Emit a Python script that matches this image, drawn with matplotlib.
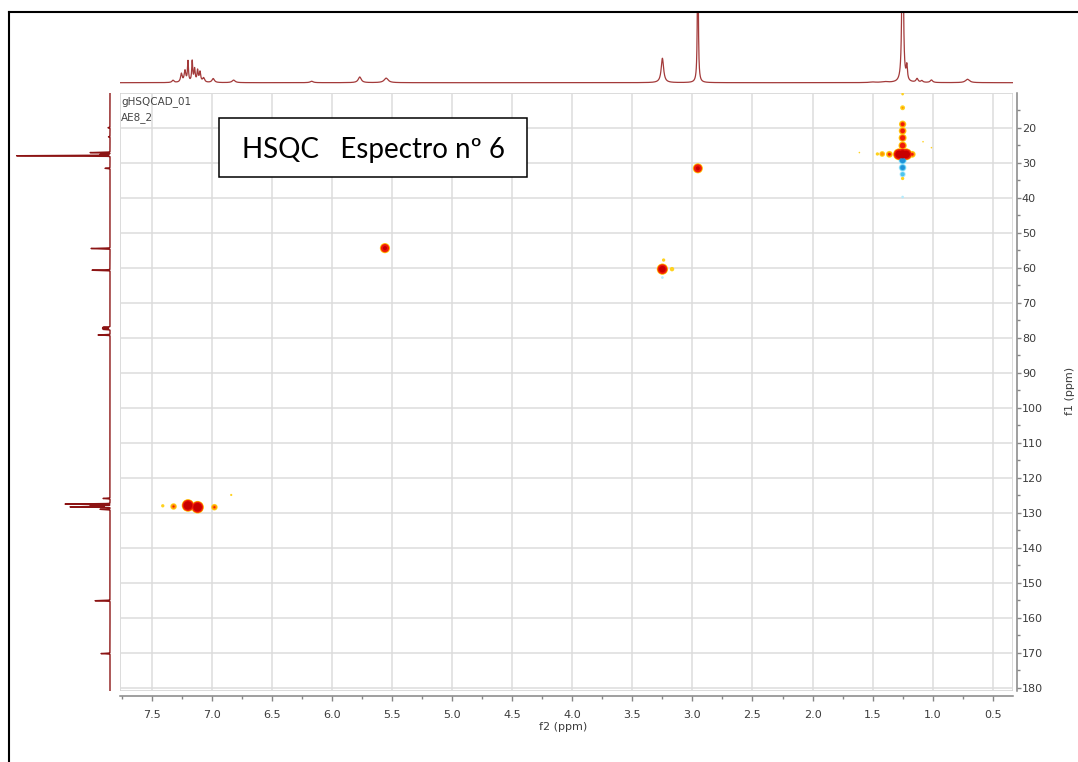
import numpy as np
import matplotlib
matplotlib.use("Agg")
import matplotlib.pyplot as plt
from matplotlib.ticker import FixedLocator
from matplotlib.patches import Rectangle
from matplotlib.lines import Line2D

# ---------------- spectral data ----------------
# 1H projection (f2): shift (ppm), height (arb.), half-width (ppm)
h1_shift = [7.325, 7.255, 7.225, 7.200, 7.165, 7.145, 7.120, 7.100, 7.070,
            6.990, 6.820, 6.170, 5.770, 5.550, 3.250, 2.955,
            1.500, 1.400, 1.250, 1.215, 1.130, 1.090, 1.010, 0.710]
h1_height = [0.8, 3.0, 4.0, 7.2, 7.3, 4.5, 4.0, 3.5, 1.5,
             1.4, 0.9, 0.5, 2.0, 1.6, 8.6, 60.0,
             0.2, 0.3, 100.0, 5.0, 1.3, 0.6, 0.9, 1.2]
h1_hwhm = [0.010, 0.008, 0.008, 0.005, 0.005, 0.006, 0.006, 0.007, 0.010,
           0.012, 0.015, 0.015, 0.015, 0.020, 0.012, 0.004,
           0.030, 0.030, 0.005, 0.006, 0.010, 0.010, 0.012, 0.020]

# 13C projection (f1): shift (ppm), height (arb.)
c13_shift = [20.0, 22.6, 27.1, 27.6, 28.0, 31.6, 54.5, 60.7,
             77.0, 77.3, 77.6, 79.2, 125.9, 127.5, 128.0, 128.3, 129.0,
             155.1, 170.2]
c13_height = [2.0, 1.5, 20.0, 10.0, 93.5, 5.0, 19.0, 18.0,
              7.0, 7.5, 7.0, 12.0, 7.0, 45.0, 20.0, 40.0, 10.0,
              15.0, 9.0]

# HSQC cross peaks: 1H shift, 13C shift, signed amplitude
xp_h = [7.41, 7.32, 7.20, 7.12, 6.98, 6.84,
        5.56,
        3.25, 3.24, 3.17, 3.25,
        2.955,
        1.25, 1.25, 1.25, 1.25, 1.25, 1.25,
        1.28, 1.22, 1.25, 1.36, 1.42, 1.46, 1.17, 1.61, 1.08, 1.01,
        1.25, 1.25, 1.25, 1.25, 1.25]
xp_c = [128.0, 128.2, 127.9, 128.4, 128.4, 124.9,
        54.4,
        60.4, 57.8, 60.4, 62.8,
        31.6,
        10.4, 14.3, 19.0, 20.9, 22.9, 25.1,
        27.6, 27.6, 27.6, 27.6, 27.5, 27.5, 27.6, 27.1, 24.0, 25.7,
        29.3, 31.4, 33.3, 34.5, 39.8]
xp_amp = [2.0, 4.5, 91.0, 91.0, 4.5, 1.7,
          22.0,
          41.0, 2.0, 2.5, -1.8,
          21.0,
          1.8, 2.8, 6.0, 7.0, 8.0, 9.0,
          60.0, 60.0, 80.0, 5.0, 3.5, 2.0, 5.0, 1.6, 1.6, 1.6,
          -9.0, -7.0, -4.0, 2.0, -1.8]

f2_ticks = [7.5, 7.0, 6.5, 6.0, 5.5, 5.0, 4.5, 4.0, 3.5, 3.0, 2.5, 2.0, 1.5, 1.0, 0.5]
f1_ticks = list(range(20, 181, 10))
title_text = "HSQC   Espectro nº 6"
exp_lines = ["gHSQCAD_01", "AE8_2"]

# ---------------- layout ----------------
W, H = 1078, 762
fig = plt.figure(figsize=(W / 100, H / 100), dpi=100)
fig.patch.set_facecolor("white")


def rect(l, t, r, b):
    return [l / W, 1 - b / H, (r - l) / W, (b - t) / H]


F2_LIM = (7.766, 0.331)
F1_LIM = (180.9, 10.0)
TICK_COLOR = "#3c3c3c"
SPINE_COLOR = "#858585"
GRID_COLOR = "#dcdcdc"

# ---------------- 2D contour plot ----------------
ax = fig.add_axes(rect(120, 92.7, 1013, 691))
ax.set_xlim(*F2_LIM)
ax.set_ylim(*F1_LIM)
ax.set_facecolor("white")
for side in ("top", "left"):
    ax.spines[side].set_visible(False)
ax.spines["bottom"].set_position(("outward", 3.6))
ax.spines["right"].set_position(("outward", 2.7))
for side in ("bottom", "right"):
    ax.spines[side].set_color(SPINE_COLOR)
    ax.spines[side].set_linewidth(1.1)
ax.add_patch(Rectangle((0, 0), 1, 1, transform=ax.transAxes, fill=False,
                       ec="#d2d2d2", lw=1.1, zorder=0.5))

ax.xaxis.set_major_locator(FixedLocator(f2_ticks))
ax.xaxis.set_minor_locator(FixedLocator(np.arange(0.75, 7.8, 0.5)))
ax.yaxis.set_major_locator(FixedLocator(f1_ticks))
ax.yaxis.set_minor_locator(FixedLocator(np.arange(15, 180, 10)))
ax.xaxis.set_major_formatter(plt.FuncFormatter(lambda v, p: f"{v:.1f}"))
ax.yaxis.set_major_formatter(plt.FuncFormatter(lambda v, p: f"{v:.0f}"))
ax.yaxis.tick_right()
ax.tick_params(axis="x", which="major", length=3.6, width=1.0, color=SPINE_COLOR,
               labelsize=8, labelcolor=TICK_COLOR, pad=6.2)
ax.tick_params(axis="x", which="minor", length=2.2, width=1.0, color=SPINE_COLOR)
ax.tick_params(axis="y", which="major", length=3.1, width=1.0, color=SPINE_COLOR,
               labelsize=8, labelcolor=TICK_COLOR, pad=0.6, right=True, left=False)
ax.tick_params(axis="y", which="minor", length=1.8, width=1.0, color=SPINE_COLOR,
               right=True, left=False)
ax.grid(True, which="major", color=GRID_COLOR, lw=1.1)
ax.set_axisbelow(True)

# cross peaks rendered as stacked contour levels of a gaussian footprint
LEVELS = [1.5, 2.5, 4.0, 14.0]
POS_COLORS = ["#ffd21f", "#ff9a00", "#f01a0a", "#c80000"]
NEG_COLORS = ["#b4ebfc", "#4cc4ef", "#1f92d8", "#0d62ae"]
SIGMA_PX = 2.2
xh = np.array(xp_h)
xc = np.array(xp_c)
xa = np.array(xp_amp)
for k, lev in enumerate(LEVELS):
    mag = np.abs(xa)
    on = mag > lev
    r_px = SIGMA_PX * np.sqrt(2 * np.log(np.where(on, mag / lev, 1.0)))
    s = (2 * r_px * 72 / 100) ** 2
    cols = [POS_COLORS[k] if a > 0 else NEG_COLORS[k] for a in xa]
    idx = np.where(on)[0]
    ax.scatter(xh[idx], xc[idx], s=s[idx], c=[cols[i] for i in idx],
               linewidths=0, zorder=3 + k)

# ---------------- 1H projection (top) ----------------
axT = fig.add_axes(rect(120, 11.7, 1013, 90))
axT.set_xlim(*F2_LIM)
px_per_unit = 2.84
axT.set_ylim(-(90 - 82.7) / px_per_unit, (82.7 - 11.7) / px_per_unit)
axT.axis("off")
ppm_h = np.linspace(F2_LIM[0], F2_LIM[1], 9000)
spec_h = np.zeros_like(ppm_h)
for c, h, w in zip(h1_shift, h1_height, h1_hwhm):
    spec_h += h * w ** 2 / ((ppm_h - c) ** 2 + w ** 2)
axT.plot(ppm_h, spec_h, color="#a33a3a", lw=0.9)

# ---------------- 13C projection (left) ----------------
axL = fig.add_axes(rect(10, 92.7, 113, 691))
axL.set_ylim(*F1_LIM)
axL.set_xlim(100, -3)
axL.axis("off")
ppm_c = np.linspace(F1_LIM[1], F1_LIM[0], 12000)
spec_c = np.zeros_like(ppm_c)
for c, h in zip(c13_shift, c13_height):
    sig = 0.07
    spec_c += h * np.exp(-0.5 * ((ppm_c - c) / sig) ** 2)
axL.plot(spec_c, ppm_c, color="#8c1414", lw=1.0)

# ---------------- annotations ----------------
fig.text(121 / W, 1 - 101.7 / H, exp_lines[0], fontsize=7.5, color="#454545",
         ha="left", va="center")
fig.text(121 / W, 1 - 117.5 / H, exp_lines[1], fontsize=7.5, color="#454545",
         ha="left", va="center")
fig.text(563 / W, 1 - 727 / H, "f2 (ppm)", fontsize=8, color=TICK_COLOR,
         ha="center", va="center")
fig.text(1070 / W, 1 - 391 / H, "f1 (ppm)", fontsize=8, color=TICK_COLOR,
         ha="center", va="center", rotation=90)

fig.add_artist(Rectangle((219.3 / W, 1 - 176.7 / H), (527 - 219.3) / W,
                         (176.7 - 117.7) / H, transform=fig.transFigure,
                         fc="white", ec="black", lw=1.1, zorder=5))
fig.text(373 / W, 1 - 158.3 / H, title_text, fontsize=20, family="Lato",
         color="black", ha="center", va="baseline", zorder=6)

# outer frame
fig.add_artist(Line2D([8.6 / W, 8.6 / W], [0, 1 - 11.7 / H],
                      transform=fig.transFigure, color="black", lw=1.5, zorder=7))
fig.add_artist(Line2D([8.6 / W, 1.0], [1 - 11.7 / H, 1 - 11.7 / H],
                      transform=fig.transFigure, color="black", lw=1.5, zorder=7))

fig.savefig("out.png", dpi=100, facecolor="white")
